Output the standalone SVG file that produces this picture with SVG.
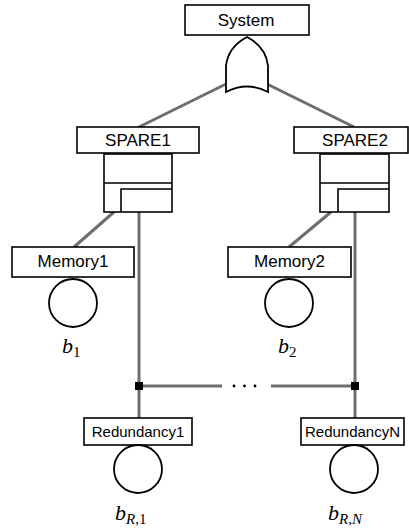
<svg xmlns="http://www.w3.org/2000/svg" width="409" height="529" viewBox="0 0 409 529">
  <style>
    .box { fill: #fff; stroke: #000; stroke-width: 1.6; }
    .gate { fill: #fff; stroke: #000; stroke-width: 1.8; }
    .edge { fill: none; stroke: #6e6e6e; stroke-width: 3; }
    .lbl { font-family: "Liberation Sans", Arial, sans-serif; font-size: 17px; fill: #000; text-anchor: middle; }
    .lbl-s { font-family: "Liberation Sans", Arial, sans-serif; font-size: 15px; fill: #000; text-anchor: middle; }
    .math { font-family: "Liberation Serif", "Times New Roman", serif; font-size: 22px; font-style: italic; fill: #000; }
    .sub { font-size: 15px; }
    .sub-up { font-style: normal; }
    .junction { fill: #000; }
  </style>

  <!-- connectors -->
  <g id="connectors">
    <line class="edge" x1="226" y1="84" x2="139" y2="127"/>
    <line class="edge" x1="267" y1="84" x2="354" y2="127"/>
    <line class="edge" x1="114" y1="212" x2="74" y2="247"/>
    <line class="edge" x1="331" y1="212" x2="289" y2="247"/>
    <line class="edge" x1="139" y1="212" x2="139" y2="418"/>
    <line class="edge" x1="355" y1="212" x2="355" y2="418"/>
    <line class="edge" x1="139" y1="386" x2="222" y2="386"/>
    <line class="edge" x1="271" y1="386" x2="355" y2="386"/>
    <circle cx="234" cy="386" r="1.4" fill="#000"/>
    <circle cx="244.5" cy="386" r="1.4" fill="#000"/>
    <circle cx="255" cy="386" r="1.4" fill="#000"/>
    <rect class="junction" x="135" y="382" width="8" height="8"/>
    <rect class="junction" x="351" y="382" width="8" height="8"/>
  </g>

  <!-- top event with OR gate -->
  <g id="system">
    <rect class="box" x="185" y="5" width="124" height="30"/>
    <text class="lbl" x="246" y="26">System</text>
    <path class="gate" d="M226,92 L226,66 Q228,47 247,37 Q266,47 268,66 L268,92 Q247,81 226,92 Z"/>
  </g>

  <!-- spare gates -->
  <g id="spare1">
    <rect class="box" x="77" y="127" width="122" height="26"/>
    <text class="lbl" x="138" y="146">SPARE1</text>
    <rect class="box" x="104" y="154" width="68" height="58"/>
    <line stroke="#000" stroke-width="1.6" x1="104" y1="183" x2="172" y2="183"/>
    <path fill="none" stroke="#000" stroke-width="1.6" d="M121,212 L121,189 L172,189"/>
  </g>

  <g id="spare2">
    <rect class="box" x="294" y="127" width="114" height="26"/>
    <text class="lbl" x="355" y="146">SPARE2</text>
    <rect class="box" x="320" y="154" width="69" height="58"/>
    <line stroke="#000" stroke-width="1.6" x1="320" y1="183" x2="389" y2="183"/>
    <path fill="none" stroke="#000" stroke-width="1.6" d="M338,212 L338,189 L389,189"/>
  </g>

  <!-- basic events -->
  <g id="memory1">
    <rect class="box" x="12" y="247" width="122" height="30"/>
    <text class="lbl" x="73" y="267">Memory1</text>
    <circle class="gate" cx="73" cy="303" r="24"/>
    <text class="math" x="62" y="353">b<tspan class="sub sub-up" dy="4">1</tspan></text>
  </g>

  <g id="memory2">
    <rect class="box" x="228" y="247" width="123" height="30"/>
    <text class="lbl" x="289.5" y="267">Memory2</text>
    <circle class="gate" cx="289" cy="303" r="24"/>
    <text class="math" x="278" y="353">b<tspan class="sub sub-up" dy="4">2</tspan></text>
  </g>

  <g id="redundancy1">
    <rect class="box" x="84" y="418" width="108" height="27"/>
    <text class="lbl-s" x="138" y="437">Redundancy1</text>
    <circle class="gate" cx="138" cy="469" r="24"/>
    <text class="math" x="115" y="520">b<tspan class="sub" dy="4">R</tspan><tspan class="sub sub-up">,1</tspan></text>
  </g>

  <g id="redundancyN">
    <rect class="box" x="301" y="418" width="103" height="27"/>
    <text class="lbl-s" x="352.5" y="437">RedundancyN</text>
    <circle class="gate" cx="354" cy="469" r="24"/>
    <text class="math" x="328" y="520">b<tspan class="sub" dy="4">R</tspan><tspan class="sub sub-up">,</tspan><tspan class="sub">N</tspan></text>
  </g>
</svg>
